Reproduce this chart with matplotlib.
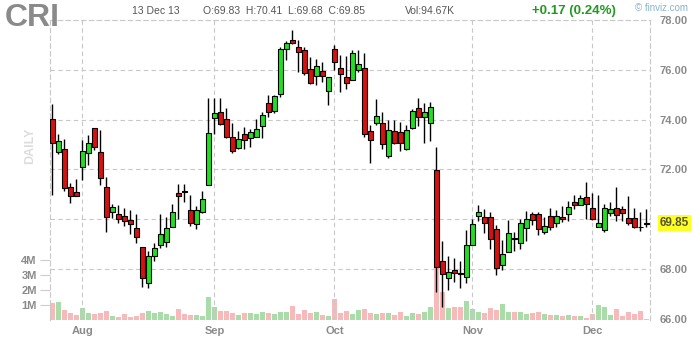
import matplotlib
matplotlib.use("Agg")
import matplotlib.pyplot as plt
import matplotlib.transforms as mtransforms
import numpy as np
import pandas as pd

plt.rcParams['font.family'] = ['Liberation Sans', 'DejaVu Sans']

ticker = "CRI"

# trading days, 25 Jul 2013 .. 13 Dec 2013 (Labor Day and Thanksgiving closed)
dates = pd.bdate_range("2013-07-25", "2013-12-13")
dates = dates[~dates.isin(pd.to_datetime(["2013-09-02", "2013-11-28"]))]

opens = [74.02, 72.72, 72.83, 71.29, 71.09, 72.09, 72.66, 73.66, 72.70, 71.29,
         70.31, 70.22, 70.14, 69.98, 69.65, 68.88, 67.44, 68.51, 68.95, 69.11,
         69.71, 71.05, 71.10, 70.38, 69.82, 70.31, 71.38, 74.06, 74.30, 74.02,
         73.32, 72.86, 73.42, 73.26, 73.32, 73.73, 74.66, 74.33, 75.02, 76.83,
         77.20, 76.91, 76.78, 76.03, 75.76, 75.96, 75.17, 76.83, 76.07, 75.73,
         75.60, 76.00, 76.09, 73.53, 73.86, 73.86, 72.55, 73.53, 73.50, 72.82,
         73.66, 74.46, 74.10, 73.86, 71.99, 68.33, 67.64, 67.97, 67.81, 67.68,
         68.98, 70.15, 70.11, 70.11, 69.61, 68.17, 68.68, 69.23, 69.04, 69.65,
         70.22, 70.22, 69.48, 70.15, 69.87, 70.09, 70.21, 70.69, 70.56, 70.89,
         70.45, 69.71, 69.58, 70.27, 70.47, 70.40, 70.07, 70.05, 69.69, 69.83]
highs = [74.64, 73.43, 73.23, 71.45, 71.63, 73.19, 73.39, 73.66, 73.59, 71.69,
         70.62, 70.58, 70.45, 70.38, 70.22, 68.88, 68.71, 69.04, 70.22, 70.09,
         70.62, 71.42, 71.42, 70.98, 70.54, 71.14, 74.86, 74.86, 74.86, 74.46,
         73.86, 73.55, 73.70, 73.62, 74.02, 74.29, 75.00, 75.00, 76.91, 77.16,
         77.61, 77.20, 76.91, 76.51, 76.43, 76.31, 75.73, 77.00, 76.60, 76.56,
         76.80, 76.80, 76.67, 73.79, 74.82, 74.30, 73.99, 73.99, 73.90, 73.79,
         74.43, 74.86, 74.66, 74.69, 72.92, 69.15, 68.54, 68.44, 68.31, 69.58,
         70.02, 70.58, 70.41, 70.31, 69.78, 69.18, 69.98, 69.51, 70.01, 70.35,
         70.31, 70.31, 70.11, 70.47, 70.38, 70.54, 70.72, 70.96, 70.98, 71.48,
         71.05, 70.98, 70.62, 70.69, 71.28, 70.54, 70.92, 70.45, 70.31, 70.41]
lows = [70.98, 72.62, 71.12, 70.65, 70.92, 71.56, 72.19, 72.79, 71.36, 69.51,
        70.05, 69.85, 69.74, 69.40, 69.04, 67.28, 67.24, 68.31, 68.84, 68.88,
        69.71, 70.01, 70.71, 69.74, 69.60, 70.25, 71.38, 73.43, 73.77, 73.28,
        72.66, 72.82, 72.83, 72.92, 73.30, 73.26, 74.10, 74.26, 74.89, 76.40,
        77.05, 75.93, 75.80, 75.44, 75.40, 75.53, 74.60, 76.00, 75.13, 75.24,
        75.60, 75.93, 73.32, 72.25, 73.79, 72.82, 72.45, 73.03, 72.75, 72.79,
        73.63, 73.73, 73.06, 73.16, 67.09, 66.50, 67.17, 67.50, 67.26, 67.44,
        68.98, 69.95, 69.44, 68.82, 67.75, 67.97, 68.67, 68.71, 68.82, 69.15,
        69.78, 69.38, 69.42, 69.58, 69.71, 69.91, 69.95, 70.42, 70.56, 70.01,
        69.98, 69.71, 69.48, 70.14, 69.95, 69.95, 69.78, 69.65, 69.55, 69.68]
closes = [73.08, 73.14, 71.25, 70.94, 70.94, 72.74, 73.06, 72.92, 71.65, 70.09,
          70.49, 70.01, 69.95, 69.81, 69.28, 67.64, 68.51, 68.84, 69.40, 69.65,
          70.29, 70.92, 71.10, 69.85, 70.38, 70.81, 73.46, 74.26, 73.82, 73.30,
          72.75, 73.22, 73.19, 73.50, 73.63, 74.17, 74.30, 74.93, 76.83, 77.07,
          77.07, 76.71, 75.89, 75.49, 76.16, 75.77, 75.71, 76.31, 75.83, 75.46,
          76.67, 76.23, 73.42, 73.19, 74.13, 73.03, 73.59, 73.06, 73.06, 73.59,
          74.36, 74.10, 74.30, 74.50, 68.08, 67.80, 67.88, 67.84, 67.81, 68.98,
          69.82, 70.29, 69.85, 69.20, 68.04, 68.60, 69.44, 69.23, 69.87, 70.01,
          69.98, 69.61, 69.74, 69.71, 70.15, 70.01, 70.49, 70.56, 70.85, 70.61,
          70.01, 69.85, 70.45, 70.40, 70.18, 70.24, 69.87, 69.69, 69.68, 69.85]
# volume in millions of shares
volumes = [1.15, 1.22, 0.67, 0.44, 0.33, 0.82, 0.44, 0.40, 0.44, 0.60,
           0.27, 0.18, 0.38, 0.22, 0.27, 0.49, 0.60, 0.49, 0.55, 0.40,
           0.29, 0.71, 0.40, 0.33, 0.33, 0.29, 1.56, 0.89, 0.60, 0.60,
           0.44, 0.33, 0.44, 0.44, 0.40, 0.51, 0.44, 0.40, 0.51, 0.55,
           0.96, 0.40, 0.67, 0.49, 0.55, 0.33, 0.29, 1.40, 0.44, 0.60,
           0.40, 0.67, 0.73, 0.44, 0.40, 0.44, 0.44, 0.33, 0.51, 0.29,
           0.44, 0.40, 0.55, 0.89, 3.51, 1.89, 0.82, 0.89, 0.89, 1.29,
           0.71, 0.51, 0.44, 0.82, 0.67, 1.07, 0.51, 0.51, 0.51, 0.40,
           0.44, 0.51, 0.42, 0.33, 0.33, 0.29, 0.33, 0.27, 0.27, 0.11,
           0.40, 1.00, 0.84, 0.33, 0.73, 0.29, 0.51, 0.40, 0.60, 0.09467]

price_ticks = [66, 68, 70, 72, 74, 76, 78]
vol_ticks = [1, 2, 3, 4]

o = np.array(opens)
h = np.array(highs)
l = np.array(lows)
c = np.array(closes)
v = np.array(volumes)
x = np.arange(len(o))

up = c > o
doji = np.abs(c - o) < 0.03
body_col = np.where(doji, "black", np.where(up, "#1fe01f", "#d81010"))
vol_col = np.where(up & ~doji, "#a9dca9", "#f6baba")

GRID = "#c8c8c8"
GRAY = "#8a8a8a"

fig = plt.figure(figsize=(7, 3.4), dpi=100)
rect = [50 / 700, 20 / 340, 600 / 700, 300 / 340]
ax_v = fig.add_axes(rect)
ax = fig.add_axes(rect)
ax.patch.set_alpha(0)

xlim = (-0.4, len(x) - 0.4)

# volume in the background
ax_v.bar(x, v, width=0.85, color=vol_col, zorder=1)
ax_v.set_xlim(*xlim)
ax_v.set_ylim(0, 20)
ax_v.set_xticks([])
ax_v.set_yticks(vol_ticks)
ax_v.set_yticklabels([f"{t}M" for t in vol_ticks])
ax_v.tick_params(axis="y", length=7, width=0.8, color="#cccccc", pad=2.5,
                 labelsize=8, labelcolor=GRAY)
for t in ax_v.get_yticklabels():
    t.set_fontweight("bold")
for s in ax_v.spines.values():
    s.set_visible(False)

# grid
for p in price_ticks[1:-1]:
    ax.axhline(p, color=GRID, lw=0.8, ls=(0, (4, 3)), zorder=0)
first_days = [i for i in range(1, len(dates)) if dates[i].month != dates[i - 1].month]
for i in first_days:
    ax.axvline(i, color=GRID, lw=0.8, ls=(0, (4, 3)), zorder=0)

# candles
bottoms = np.minimum(o, c)
heights = np.maximum(np.abs(c - o), 0.02)
ax.vlines(x, l, h, color="black", lw=1, zorder=2)
ax.bar(x, heights, bottom=bottoms, width=0.75, color=body_col,
       edgecolor="black", linewidth=0.8, zorder=3)

ax.set_xlim(*xlim)
ax.set_ylim(66 - 1 / 24.9, 78)
ax.set_xticks(first_days)
ax.set_xticklabels([dates[i].strftime("%b") for i in first_days])
ax.yaxis.tick_right()
ax.set_yticks(price_ticks)
ax.set_yticklabels([f"{p:.2f}" for p in price_ticks])
ax.tick_params(axis="x", length=0, pad=4, labelsize=8, labelcolor=GRAY)
ax.tick_params(axis="y", length=0, pad=7, labelsize=8, labelcolor=GRAY)
for t in ax.get_xticklabels() + ax.get_yticklabels():
    t.set_fontweight("bold")
for side in ["top", "left", "right"]:
    ax.spines[side].set_color(GRID)
    ax.spines[side].set_linewidth(0.8)
    ax.spines[side].set_linestyle((0, (4, 3)))
ax.spines["bottom"].set_visible(False)

# last price tag
trans = mtransforms.blended_transform_factory(ax.transAxes, ax.transData)
ax.text(1.0, c[-1], f"{c[-1]:.2f}", transform=trans, ha="left", va="center",
        fontsize=8.5, fontweight="bold", color="#555533",
        bbox=dict(boxstyle="square,pad=0.15", fc="#ffff22", ec="none"),
        zorder=5).set_position((1.0 + 10 / 600, c[-1]))

# header texts
fig.text(5 / 700, 1 - 18 / 340, ticker, fontsize=23, fontweight="bold",
         color=GRAY, va="center", ha="left")
fig.text(30 / 700, 1 - 146 / 340, "DAILY", rotation=90, fontsize=9,
         fontweight="bold", color="#dddddd", ha="center", va="center")
last = dates[-1]
fig.text(132 / 700, 1 - 11 / 340, f"{last.day} {last.strftime('%b %y')}",
         fontsize=7.5, color="#555555", va="center")
fig.text(203 / 700, 1 - 11 / 340,
         f"O:{o[-1]:.2f}  H:{h[-1]:.2f}  L:{l[-1]:.2f}  C:{c[-1]:.2f}",
         fontsize=7.5, color="#555555", va="center")
fig.text(405 / 700, 1 - 11 / 340, f"Vol:{v[-1] * 1000:.2f}K",
         fontsize=7.5, color="#555555", va="center")
chg = c[-1] - c[-2]
fig.text(532 / 700, 1 - 11 / 340, f"+{chg:.2f} ({chg / c[-2] * 100:.2f}%)",
         fontsize=9.5, fontweight="bold", color="#1f9a1f", va="center")
fig.text(635 / 700, 1 - 8 / 340, "\u00a9 finviz.com", fontsize=7,
         color="#88b4d0", va="center")

fig.savefig("out.png", dpi=100)
